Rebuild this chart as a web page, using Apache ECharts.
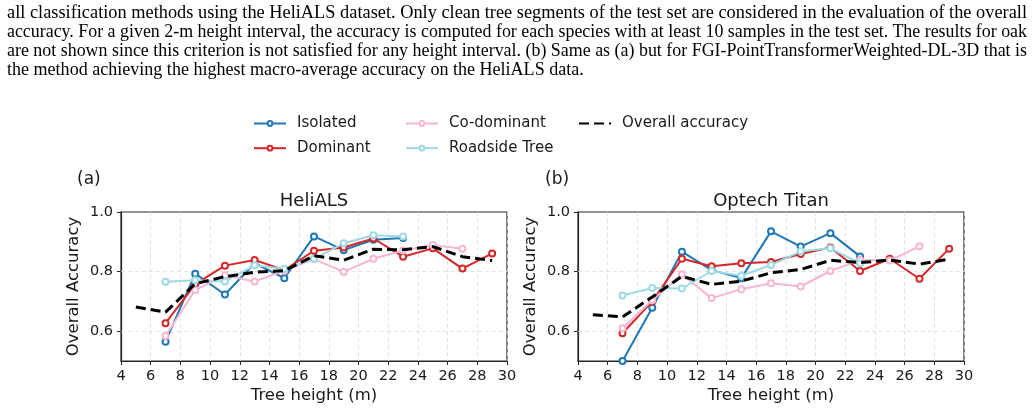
<!DOCTYPE html>
<html>
<head>
<meta charset="utf-8">
<script src="https://cdn.jsdelivr.net/npm/echarts@6/dist/echarts.min.js"></script>
<style>
html,body{margin:0;padding:0;background:#fff;}
#chart{position:absolute;left:0;top:0;width:1036px;height:412px;}
#caption{position:absolute;left:7px;top:2px;width:1020px;font-family:"Liberation Serif","DejaVu Serif",serif;font-size:19px;line-height:19px;color:#000;}
#caption .ln{display:block;height:19px;white-space:nowrap;}
#caption .ln span{display:inline-block;white-space:nowrap;transform-origin:0 0;}
</style>
</head>
<body>
<div id="chart"></div>
<div id="caption"></div>
<script>
// ---- caption text ----
const captionLines = [
  "all classification methods using the HeliALS dataset.  Only clean tree segments of the test set are considered in the evaluation of the overall",
  "accuracy. For a given 2-m height interval, the accuracy is computed for each species with at least 10 samples in the test set. The results for oak",
  "are not shown since this criterion is not satisfied for any height interval. (b) Same as (a) but for FGI-PointTransformerWeighted-DL-3D that is",
  "the method achieving the highest macro-average accuracy on the HeliALS data."
];

// ---- data ----
const seriesNames = ["Isolated", "Dominant", "Co-dominant", "Roadside Tree", "Overall accuracy"];
const panelTitles = ["HeliALS", "Optech Titan"];
const panelLabels = ["(a)", "(b)"];
const xTicks = [4, 6, 8, 10, 12, 14, 16, 18, 20, 22, 24, 26, 28, 30];
const yTickLabels = [0.6, 0.8, 1.0];

const hIsolated = [7, 9, 11, 13, 15, 17, 19, 21, 23];
const hDominant = [7, 9, 11, 13, 15, 17, 19, 21, 23, 25, 27, 29];
const hCodominant = [7, 9, 11, 13, 15, 17, 19, 21, 23, 25, 27];
const hRoadside = [7, 9, 11, 13, 15, 17, 19, 21, 23];
const hOverall = [5, 7, 9, 11, 13, 15, 17, 19, 21, 23, 25, 27, 29];

const heliIsolated = [0.565, 0.793, 0.723, 0.828, 0.778, 0.918, 0.872, 0.907, 0.913];
const heliDominant = [0.627, 0.758, 0.820, 0.839, 0.805, 0.870, 0.881, 0.911, 0.850, 0.878, 0.810, 0.861];
const heliCodominant = [0.584, 0.738, 0.788, 0.767, 0.803, 0.842, 0.799, 0.843, 0.871, 0.889, 0.877];
const heliRoadside = [0.766, 0.771, 0.767, 0.821, 0.809, 0.843, 0.895, 0.922, 0.918];
const heliOverall = [0.681, 0.664, 0.759, 0.783, 0.798, 0.803, 0.853, 0.838, 0.875, 0.873, 0.884, 0.850, 0.837];

const titanIsolated = [0.500, 0.679, 0.867, 0.805, 0.778, 0.935, 0.884, 0.929, 0.851];
const titanDominant = [0.593, 0.700, 0.843, 0.818, 0.828, 0.832, 0.859, 0.881, 0.802, 0.843, 0.776, 0.877];
const titanCodominant = [0.610, 0.704, 0.791, 0.711, 0.741, 0.761, 0.750, 0.802, 0.839, 0.837, 0.885];
const titanRoadside = [0.720, 0.745, 0.743, 0.802, 0.786, 0.822, 0.868, 0.878, 0.828];
const titanOverall = [0.655, 0.648, 0.715, 0.784, 0.757, 0.768, 0.796, 0.807, 0.838, 0.830, 0.839, 0.825, 0.842];

// ---- caption layout ----
(function () {
  const cap = document.getElementById('caption');
  const target = 1020;
  const spans = captionLines.map(t => {
    const d = document.createElement('div');
    d.className = 'ln';
    const s = document.createElement('span');
    s.textContent = t;
    d.appendChild(s);
    cap.appendChild(d);
    return s;
  });
  let scales = [];
  spans.forEach((s, i) => {
    if (i === spans.length - 1) return;
    const w = s.getBoundingClientRect().width;
    if (w > target) {
      const k = target / w;
      scales.push(k);
      s.style.transform = 'scaleX(' + k + ')';
    } else {
      const n = (s.textContent.match(/ /g) || []).length;
      s.style.wordSpacing = ((target - w) / n) + 'px';
      scales.push(1);
    }
  });
  const avg = scales.reduce((a, b) => a + b, 0) / scales.length;
  if (avg < 1) spans[spans.length - 1].style.transform = 'scaleX(' + avg + ')';
})();

// ---- chart ----
const FONT = 'DejaVu Sans';
const TXT = '#1a1a1a';
const colors = ['#1f77b4', '#d62728', '#f7b6d2', '#9edae5', '#000000'];
const heights = [hIsolated, hDominant, hCodominant, hRoadside, hOverall];
const panelData = [
  [heliIsolated, heliDominant, heliCodominant, heliRoadside, heliOverall],
  [titanIsolated, titanDominant, titanCodominant, titanRoadside, titanOverall]
];
const gridLefts = [121, 578];
const gridW = 386, gridTop = 212, gridH = 149;

const grids = [], xAxes = [], yAxes = [], series = [], titles = [], graphics = [];
panelData.forEach((pd, p) => {
  grids.push({left: gridLefts[p], top: gridTop, width: gridW, height: gridH, show: true,
    borderColor: '#262626', borderWidth: 1.2, backgroundColor: 'transparent'});
  xAxes.push({
    type: 'value', gridIndex: p, min: xTicks[0], max: xTicks[xTicks.length - 1], interval: 2,
    name: 'Tree height (m)', nameLocation: 'middle', nameGap: 26,
    nameTextStyle: {fontFamily: FONT, fontSize: 16.5, color: TXT},
    axisLine: {show: true, lineStyle: {color: '#262626', width: 1.2}},
    axisTick: {show: true, length: 4, lineStyle: {color: '#262626', width: 1}},
    axisLabel: {fontFamily: FONT, fontSize: 14.5, color: TXT, margin: 8},
    splitLine: {show: true, lineStyle: {color: '#dddddd', type: [4, 3], width: 0.8}}
  });
  yAxes.push({
    type: 'value', gridIndex: p, min: 0.5, max: 1.0, interval: 0.1,
    name: 'Overall Accuracy', nameLocation: 'middle', nameGap: 39,
    nameTextStyle: {fontFamily: FONT, fontSize: 16.5, color: TXT},
    axisLine: {show: true, lineStyle: {color: '#262626', width: 1.2}},
    axisTick: {show: true, length: 4, customValues: yTickLabels, lineStyle: {color: '#262626', width: 1}},
    axisLabel: {fontFamily: FONT, fontSize: 14.5, color: TXT, margin: 8, customValues: yTickLabels,
      formatter: v => v.toFixed(1)},
    splitLine: {show: false}
  });
  titles.push({text: panelTitles[p], left: gridLefts[p] + gridW / 2, top: 192, textAlign: 'center', padding: 0,
    textStyle: {fontFamily: FONT, fontSize: 18, fontWeight: 'normal', color: TXT}});
  graphics.push({type: 'text', left: p === 0 ? 77 : 545, top: 171,
    style: {text: panelLabels[p], font: '17px "DejaVu Sans"', fill: TXT}});
  pd.forEach((vals, s) => {
    const isOverall = s === 4;
    const markLine = s === 0 ? {
      silent: true, symbol: 'none', label: {show: false}, z: 1,
      lineStyle: {color: '#dddddd', type: [4, 3], width: 0.8},
      data: yTickLabels.filter(v => v < 1).map(v => ({yAxis: v}))
    } : undefined;
    series.push({
      name: seriesNames[s], type: 'line', xAxisIndex: p, yAxisIndex: p,
      data: heights[s].map((h, i) => [h, vals[i]]),
      symbol: isOverall ? 'none' : 'emptyCircle', symbolSize: 6,
      showSymbol: !isOverall,
      lineStyle: {color: colors[s], width: isOverall ? 3 : 2, type: isOverall ? [10, 5] : 'solid'},
      itemStyle: {color: colors[s], borderColor: colors[s], borderWidth: 1.5},
      animation: false, z: 2 + s,
      markLine: markLine,
      emphasis: {disabled: true}
    });
  });
});

const legendBase = {
  orient: 'vertical', padding: 0, itemWidth: 32, itemHeight: 6, itemGap: 9.7,
  textStyle: {fontFamily: FONT, fontSize: 15, color: TXT, padding: [0, 0, 0, 6]},
  selectedMode: false
};

const chart = echarts.init(document.getElementById('chart'), null, {renderer: 'canvas'});
chart.setOption({
  animation: false,
  backgroundColor: 'transparent',
  title: titles,
  graphic: graphics,
  legend: [
    Object.assign({}, legendBase, {left: 253, top: 116, data: [seriesNames[0], seriesNames[1]]}),
    Object.assign({}, legendBase, {left: 405, top: 116, data: [seriesNames[2], seriesNames[3]]}),
    Object.assign({}, legendBase, {left: 578, top: 116,
      data: [{name: seriesNames[4], itemStyle: {opacity: 0}}]})
  ],
  grid: grids,
  xAxis: xAxes,
  yAxis: yAxes,
  series: series
});
</script>
</body>
</html>
